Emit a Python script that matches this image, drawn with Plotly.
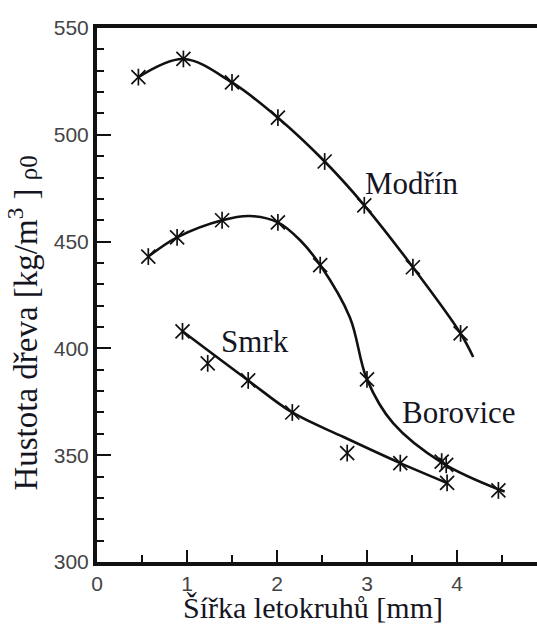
import plotly.graph_objects as go

# ---- data ----
# Modřín (larch)
modrin_mx = [0.46, 0.96, 1.50, 2.01, 2.53, 2.97, 3.51, 4.04]
modrin_my = [527, 535.5, 524.5, 508, 487.5, 467, 438, 407]
modrin_cx = [0.46, 0.96, 1.50, 2.01, 2.53, 2.97, 3.51, 4.04, 4.18]
modrin_cy = [527, 535.5, 524.5, 508, 487.5, 467, 438, 407, 396]

# Borovice (pine)
borovice_mx = [0.57, 0.89, 1.39, 2.01, 2.48, 3.00, 3.83, 3.88, 4.46]
borovice_my = [443, 452, 460, 459, 439, 385.5, 347, 345.5, 333.5]
borovice_cx = [0.57, 0.89, 1.39, 1.70, 2.01, 2.26, 2.48, 2.81, 3.00, 3.29, 3.84, 4.48, 4.53]
borovice_cy = [443, 452, 460, 462, 459, 450.5, 439, 414.5, 385.5, 365, 346.3, 333.7, 333]

# Smrk (spruce)
smrk_mx = [0.95, 1.23, 1.68, 2.17, 2.78, 3.37, 3.89]
smrk_my = [408, 393, 385, 370, 351, 346.3, 337]
smrk_cx = [0.95, 1.68, 2.17, 2.74, 3.37, 3.89]
smrk_cy = [408, 385, 370, 358.5, 346.3, 337]

series_labels = ["Modřín", "Borovice", "Smrk"]
label_x = [2.96, 3.37, 1.36]
label_y = [477, 370, 403]

x_ticks = [0, 1, 2, 3, 4]
y_ticks = [300, 350, 400, 450, 500, 550]

x_title = "Šířka letokruhů [mm]"
y_title = "Hustota dřeva [kg/m<sup>3</sup> ] <span style='font-size:25px'>ρ0</span>"

fig = go.Figure()

curves = [(modrin_cx, modrin_cy), (borovice_cx, borovice_cy), (smrk_cx, smrk_cy)]
marks = [(modrin_mx, modrin_my), (borovice_mx, borovice_my), (smrk_mx, smrk_my)]

INK = "#111111"
for cx, cy in curves:
    fig.add_trace(go.Scatter(x=cx, y=cy, mode="lines",
                             line=dict(color=INK, width=2.6, shape="spline", smoothing=1.0),
                             hoverinfo="skip", showlegend=False))
for mx, my in marks:
    fig.add_trace(go.Scatter(x=mx, y=my, mode="markers",
                             marker=dict(symbol="x-thin-open", size=14, color=INK,
                                         line=dict(color=INK, width=1.7)),
                             showlegend=False))
    fig.add_trace(go.Scatter(x=mx, y=my, mode="markers",
                             marker=dict(symbol="line-ns-open", size=12, color=INK,
                                         line=dict(color=INK, width=1.7)),
                             showlegend=False))

serif = "Liberation Serif, Times New Roman, Times, DejaVu Serif, serif"
TXT = "#15151f"
for t, lx, ly in zip(series_labels, label_x, label_y):
    fig.add_annotation(x=lx, y=ly, text=t, showarrow=False, xanchor="left",
                       yanchor="middle",
                       font=dict(family=serif, size=31, color=TXT))

fig.add_annotation(xref="paper", yref="paper", x=0.491, y=0, yshift=-45,
                   text=x_title, showarrow=False, xanchor="center", yanchor="middle",
                   font=dict(family=serif, size=30, color=TXT))
fig.add_annotation(xref="paper", yref="paper", x=0, xshift=-74, y=0.129,
                   text=y_title, showarrow=False, textangle=-90,
                   xanchor="center", yanchor="bottom",
                   font=dict(family=serif, size=33, color=TXT))

tickfont = dict(family="Liberation Sans, Arial, sans-serif", size=21, color="#444444")

fig.update_layout(
    width=537, height=626,
    margin=dict(l=97, r=0, t=28, b=64),
    paper_bgcolor="white", plot_bgcolor="white",
    font=dict(family=serif),
    xaxis=dict(range=[0, 4.889], tickvals=x_ticks, ticks="inside", ticklen=12,
               tickwidth=2, tickcolor=INK, showgrid=False, zeroline=False,
               showline=True, linecolor=INK, linewidth=4, mirror=True,
               tickfont=tickfont,
               minor=dict(dtick=0.5, ticks="inside", ticklen=7, tickwidth=1.6,
                          tickcolor=INK, showgrid=False)),
    yaxis=dict(range=[300, 550], tickvals=y_ticks, ticks="inside", ticklen=14,
               tickwidth=2, tickcolor=INK, showgrid=False, zeroline=False,
               showline=True, linecolor=INK, linewidth=4, mirror=False,
               tickfont=tickfont,
               minor=dict(dtick=10, ticks="inside", ticklen=7, tickwidth=1.6,
                          tickcolor=INK, showgrid=False)),
)

fig.write_html("out.html", config={"displayModeBar": False},
               post_script="document.body.style.margin='0';document.body.style.overflow='hidden';")
